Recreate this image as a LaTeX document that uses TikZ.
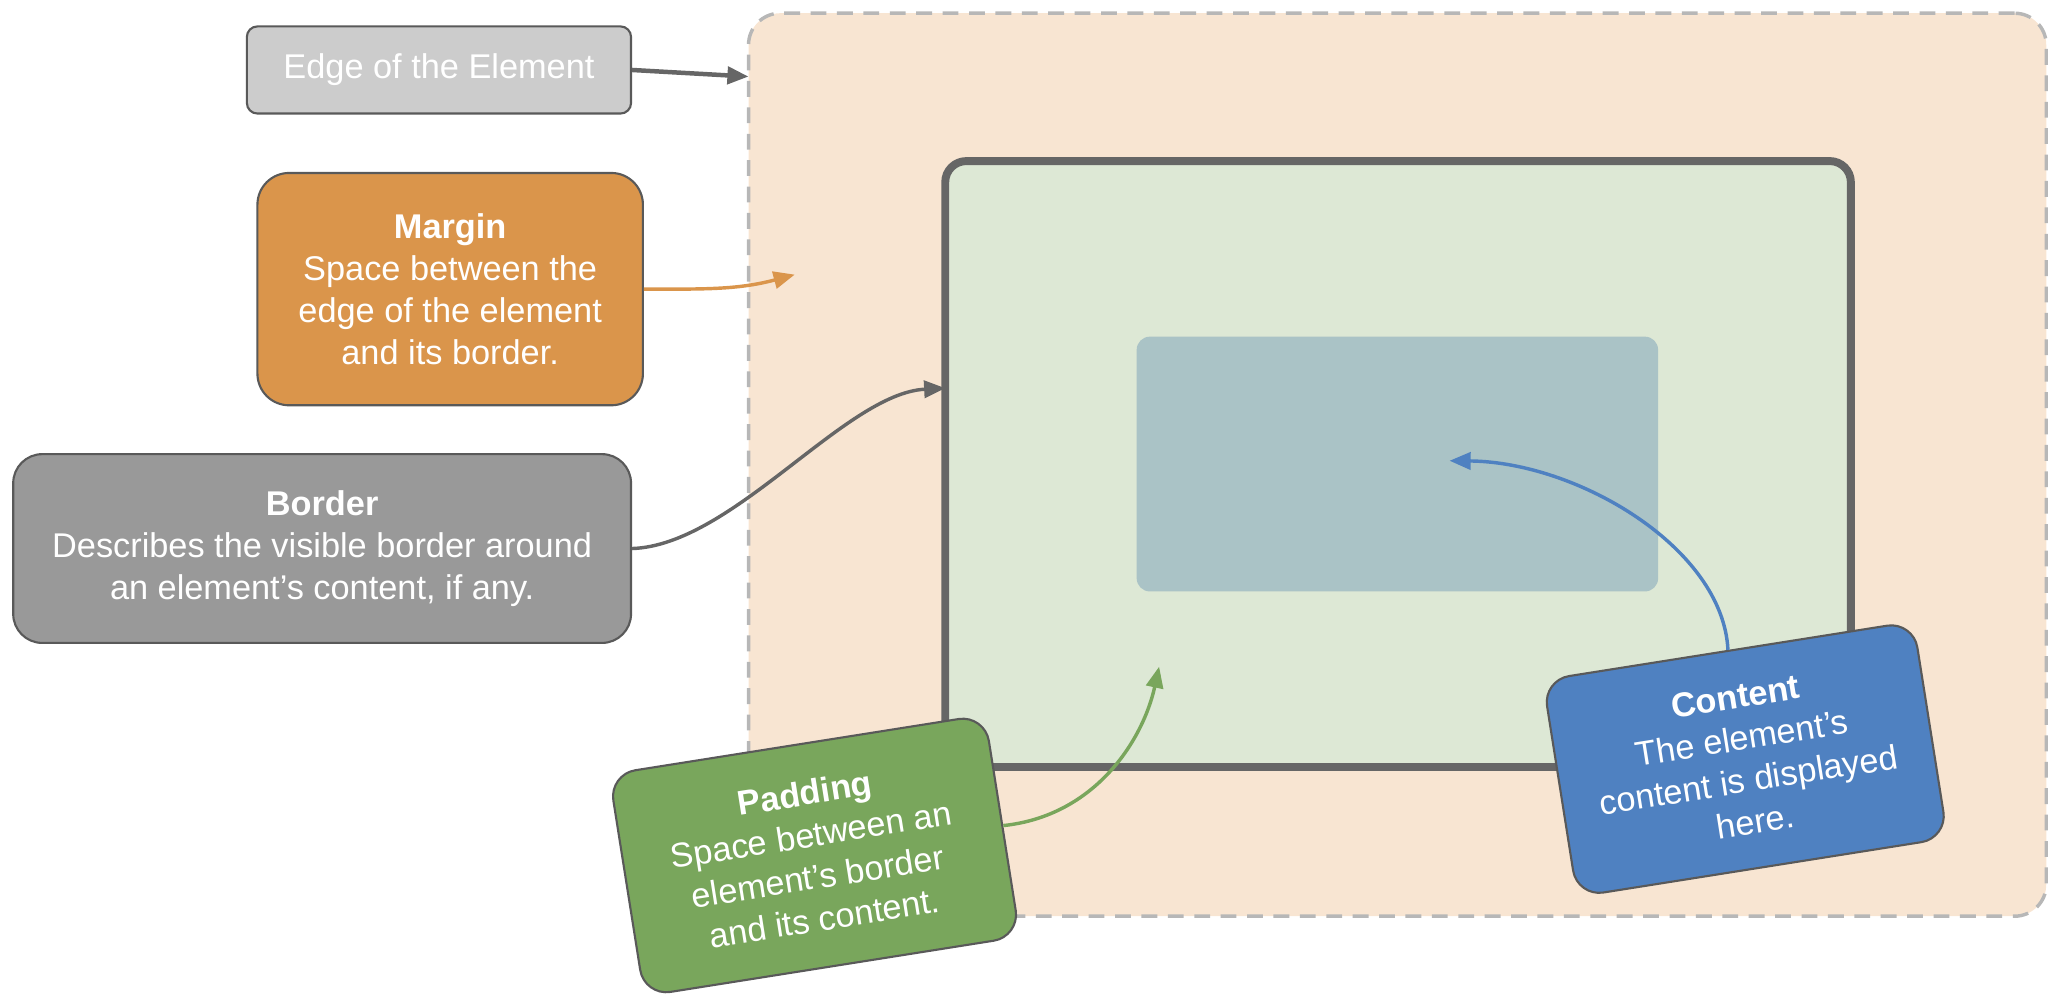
\documentclass[tikz,border=0pt]{standalone}
\usepackage{fontspec}
\setmainfont{Liberation Sans}
\usetikzlibrary{arrows.meta,positioning}
\definecolor{peach}{HTML}{F8E5D2}
\definecolor{dashgray}{HTML}{B7B7B7}
\definecolor{padgreen}{HTML}{DDE8D5}
\definecolor{bordgray}{HTML}{666666}
\definecolor{contblue}{HTML}{AAC3C6}
\definecolor{boxline}{HTML}{595959}
\definecolor{edgegray}{HTML}{CCCCCC}
\definecolor{marginorange}{HTML}{DA954B}
\definecolor{bordergray}{HTML}{999999}
\definecolor{padboxgreen}{HTML}{79A65C}
\definecolor{contboxblue}{HTML}{4F81C1}
\definecolor{arrowgray}{HTML}{666666}

\begin{document}
\begin{tikzpicture}[x=0.5pt,y=-0.5pt,
    callout/.style={draw=boxline, line width=0.8pt, text=white, align=center, inner sep=0pt, font=\fontsize{13}{16}\selectfont},
    pointer/.style={line width=1.3pt, -{Triangle[length=8pt,width=6.5pt]}}]
    \useasboundingbox (0,0) rectangle (1568,762);
    % the element
    \node[fill=peach, draw=dashgray, dash pattern=on 6pt off 4pt, line width=1.3pt, rounded corners=12pt, minimum width=491.5pt, minimum height=342pt] (area) at (1058.5,352) {};
    \node[fill=padgreen, draw=bordgray, line width=3pt, rounded corners=8pt, minimum width=343pt, minimum height=229.5pt] (bord) at (1059,351.5) {};
    \node[fill=contblue, rounded corners=5pt, minimum width=197.5pt, minimum height=96.5pt] (cont) at (1058.5,351.5) {};
    % callouts
    \node[callout, fill=edgegray, minimum width=145.5pt, minimum height=33pt, rounded corners=4pt] (edge) at (332.5,53) {Edge of the Element};
    \node[callout, fill=marginorange, minimum width=146pt, minimum height=88pt, rounded corners=12pt] (margin) at (341,219) {\textbf{Margin}\\Space between the\\edge of the element\\and its border.};
    \node[callout, fill=bordergray, minimum width=234pt, minimum height=71.5pt, rounded corners=11pt] (border) at (244,415.5) {\textbf{Border}\\Describes the visible border around\\an element’s content, if any.};
    \node[callout, fill=padboxgreen, rotate=9, minimum width=144pt, minimum height=85pt, rounded corners=10pt] (padding) at (617,648) {\textbf{Padding}\\Space between an\\element’s border\\and its content.};
    \node[callout, fill=contboxblue, rotate=9, minimum width=142pt, minimum height=83pt, rounded corners=10pt] (content) at (1322,575) {\textbf{Content}\\The element’s\\content is displayed\\here.};
    % arrow ends
    \coordinate (edgetip) at (567,58);
    \coordinate (margintip) at (602,208);
    \coordinate (bordertip) at (716,294);
    \coordinate (paddingtip) at (878,505);
    \coordinate (contenttip) at (1098,349);
    \draw[pointer, arrowgray, line width=1.7pt] (edge.east) -- (edgetip);
    \draw[pointer, marginorange] (margin.east) to[out=0, in=195] (margintip);
    \draw[pointer, arrowgray] (border.east) .. controls (555,413) and (640,298) .. (bordertip);
    \draw[pointer, padboxgreen] (padding.east) .. controls (830,618) and (866,560) .. (paddingtip);
    \draw[pointer, contboxblue] (content.north) .. controls (1305,415) and (1195,350) .. (contenttip);
\end{tikzpicture}
\end{document}
